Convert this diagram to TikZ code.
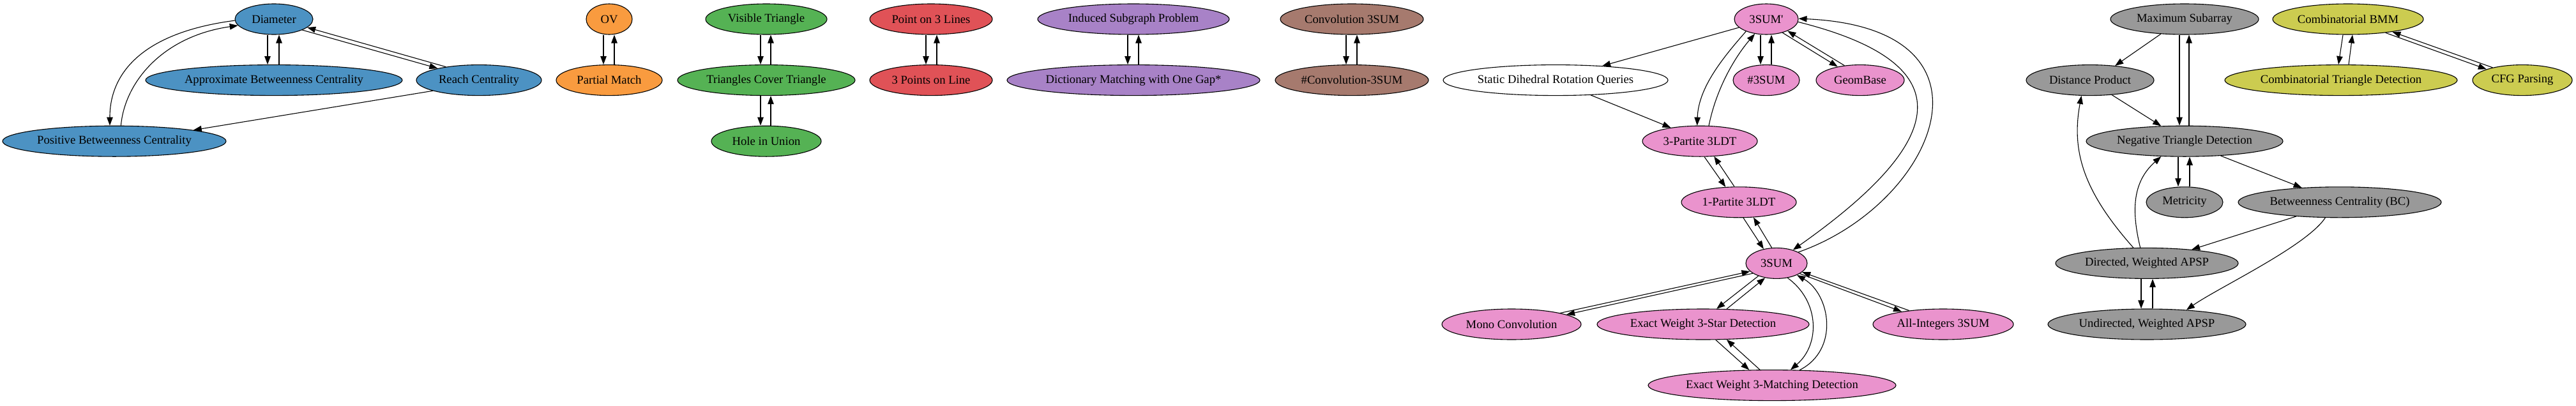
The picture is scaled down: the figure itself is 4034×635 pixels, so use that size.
\documentclass[tikz,border=0pt]{standalone}
\usepackage{fontspec}
\setmainfont{Liberation Serif}[Ligatures=TeXOff]
\usetikzlibrary{shapes.geometric,arrows.meta}
\definecolor{cblue}{HTML}{4C92C3}
\definecolor{corange}{HTML}{F99B3F}
\definecolor{cgreen}{HTML}{55B254}
\definecolor{cred}{HTML}{E05257}
\definecolor{cpurple}{HTML}{A882C7}
\definecolor{cbrown}{HTML}{A67A6E}
\definecolor{cpink}{HTML}{EA93CD}
\definecolor{cgray}{HTML}{999999}
\definecolor{colive}{HTML}{CCCC50}
\newcommand\gvfont{\fontsize{18.67pt}{22pt}\selectfont}
\tikzset{
  gv/.style={ellipse, draw=black, line width=1.1pt, minimum height=48pt, inner sep=0pt, font=\gvfont, text=black},
  e/.style={draw=black, line width=1.1pt, -{Triangle[length=13pt,width=9.5pt]}},
}
\newcommand\vpair[4]{%
  \draw[e] ([xshift=#3pt]#1.south) -- ([xshift=#3pt]#2.north);
  \draw[e] ([xshift=#4pt]#2.north) -- ([xshift=#4pt]#1.south);}
\begin{document}
\begin{tikzpicture}[x=1pt,y=1pt]
\fill[white] (0,0) rectangle (4034,-635);
\useasboundingbox (0,0) rectangle (4034,-635);

% blue
\node[gv, fill=cblue, minimum width=122pt] (dia) at (429,-30) {Diameter};
\node[gv, fill=cblue, minimum width=402pt] (abc) at (429,-125.6) {Approximate Betweenness Centrality};
\node[gv, fill=cblue, minimum width=196pt] (rc) at (750,-125.6) {Reach Centrality};
\node[gv, fill=cblue, minimum width=350pt] (pbc) at (179,-221.2) {Positive Betweenness Centrality};
% orange
\node[gv, fill=corange, minimum width=72pt] (ov) at (954,-30) {OV};
\node[gv, fill=corange, minimum width=166pt] (pm) at (954,-125.6) {Partial Match};
% green
\node[gv, fill=cgreen, minimum width=190pt] (vt) at (1200,-30) {Visible Triangle};
\node[gv, fill=cgreen, minimum width=278pt] (tct) at (1200,-125.6) {Triangles Cover Triangle};
\node[gv, fill=cgreen, minimum width=172pt] (hu) at (1200,-221.2) {Hole in Union};
% red
\node[gv, fill=cred, minimum width=192pt] (pthl) at (1458,-30) {Point on 3 Lines};
\node[gv, fill=cred, minimum width=192pt] (tpl) at (1458,-125.6) {3 Points on Line};
% purple
\node[gv, fill=cpurple, minimum width=300pt] (isp) at (1775,-30) {Induced Subgraph Problem};
\node[gv, fill=cpurple, minimum width=396pt] (dm) at (1775,-125.6) {Dictionary Matching with One Gap*};
% brown
\node[gv, fill=cbrown, minimum width=224pt] (cthree) at (2117,-30) {Convolution 3SUM};
\node[gv, fill=cbrown, minimum width=240pt] (ncthree) at (2117,-125.6) {\#Convolution-3SUM};
% pink
\node[gv, fill=white, minimum width=352pt] (sdrq) at (2436,-125.6) {Static Dihedral Rotation Queries};
\node[gv, fill=cpink, minimum width=100pt] (tsp) at (2766,-30) {3SUM'};
\node[gv, fill=cpink, minimum width=104pt] (nthree) at (2766,-125.6) {\#3SUM};
\node[gv, fill=cpink, minimum width=138pt] (gb) at (2913,-125.6) {GeomBase};
\node[gv, fill=cpink, minimum width=180pt] (pthree) at (2662,-221.2) {3-Partite 3LDT};
\node[gv, fill=cpink, minimum width=180pt] (pone) at (2723,-316.8) {1-Partite 3LDT};
\node[gv, fill=cpink, minimum width=96pt] (ts) at (2782,-412.4) {3SUM};
\node[gv, fill=cpink, minimum width=218pt] (mc) at (2367,-508) {Mono Convolution};
\node[gv, fill=cpink, minimum width=332pt] (ws) at (2667,-508) {Exact Weight 3-Star Detection};
\node[gv, fill=cpink, minimum width=220pt] (ai) at (3043,-508) {All-Integers 3SUM};
\node[gv, fill=cpink, minimum width=388pt] (wm) at (2775,-603.6) {Exact Weight 3-Matching Detection};
% gray
\node[gv, fill=cgray, minimum width=232pt] (ms) at (3421,-30) {Maximum Subarray};
\node[gv, fill=cgray, minimum width=200pt] (dp) at (3273,-125.6) {Distance Product};
\node[gv, fill=cgray, minimum width=308pt] (ntd) at (3421,-221.2) {Negative Triangle Detection};
\node[gv, fill=cgray, minimum width=120pt] (met) at (3421,-316.8) {Metricity};
\node[gv, fill=cgray, minimum width=318pt] (bc) at (3664,-316.8) {Betweenness Centrality (BC)};
\node[gv, fill=cgray, minimum width=286pt] (dwa) at (3362,-412.4) {Directed, Weighted APSP};
\node[gv, fill=cgray, minimum width=310pt] (uwa) at (3362,-508) {Undirected, Weighted APSP};
% olive
\node[gv, fill=colive, minimum width=236pt] (bmm) at (3677,-30) {Combinatorial BMM};
\node[gv, fill=colive, minimum width=364pt] (ctd) at (3666,-125.6) {Combinatorial Triangle Detection};
\node[gv, fill=colive, minimum width=156pt] (cfg) at (3950,-125.6) {CFG Parsing};

% ---- blue edges
\vpair{dia}{abc}{-10}{8}
\draw[e] (dia.-21) -- (rc.164);
\draw[e] (rc.158) -- (dia.-14);
\draw[e] (dia.182) .. controls +(-138,-18) and +(0,87) .. (pbc.106);
\draw[e] (pbc.67) .. controls +(6,68) and +(-118,-17) .. (dia.190);
\draw[e] (rc.193) -- (pbc.8);
% ---- small pairs
\vpair{ov}{pm}{-9}{8}
\vpair{vt}{tct}{-9}{7}
\vpair{tct}{hu}{-9}{7}
\vpair{pthl}{tpl}{-8}{9}
\vpair{isp}{dm}{-9}{8}
\vpair{cthree}{ncthree}{-9}{8}
% ---- pink edges
\draw[e] (tsp.-163) -- (sdrq.17);
\draw[e] (sdrq.-23) -- (pthree.155);
\draw[e] (tsp.-149) .. controls +(-35,-40) and +(2,60) .. (pthree.100);
\draw[e] (pthree.60) .. controls +(12,60) and +(-30,-35) .. (tsp.-128);
\vpair{tsp}{nthree}{-9}{8}
\draw[e] (tsp.-40) -- (gb.149);
\draw[e] (gb.137) -- (tsp.-29);
\draw[e] (tsp.-5) .. controls +(280,-70) and +(224,158) .. (ts.39);
\draw[e] (ts.27) .. controls +(214,75) and +(334,-15) .. (tsp.1);
\draw[e] (pthree.-74) -- (pone.131);
\draw[e] (pone.106) -- (pthree.-47);
\draw[e] (pone.-74) -- (ts.132);
\draw[e] (ts.107) -- (pone.-46);
\draw[e] (mc.13) -- (ts.197);
\draw[e] (ts.203) -- (mc.10);
\draw[e] (ts.-145) -- (ws.49);
\draw[e] (ws.33) -- (ts.-128);
\draw[e] (ts.-24) -- (ai.163);
\draw[e] (ai.158) -- (ts.-19);
\draw[e] (ts.-53) .. controls +(50,-36) and +(47,40) .. (wm.40);
\draw[e] (wm.29) .. controls +(63,32) and +(52,-30) .. (ts.-30);
\draw[e] (ws.-51) -- (wm.146);
\draw[e] (wm.128) -- (ws.-33);
% ---- gray edges
\draw[e] (ms.-148) -- (dp.30);
\vpair{ms}{ntd}{-8}{7}
\draw[e] (dp.-34) -- (ntd.147);
\vpair{ntd}{met}{-10}{8}
\draw[e] (ntd.-22) -- (bc.159);
\draw[e] (bc.-162) -- (dwa.17);
\draw[e] (bc.-133.5) .. controls +(-30,-45) and +(50,35) .. (uwa.20);
\draw[e] (dwa.131) .. controls +(-79,89) and +(-16,-86) .. (dp.-119);
\draw[e] (dwa.113) .. controls +(-14,58) and +(-45,-40) .. (ntd.-147);
\vpair{dwa}{uwa}{-9}{9}
% ---- olive edges
\draw[e] ([xshift=-8pt]bmm.south) -- ([xshift=-4pt]ctd.north);
\draw[e] ([xshift=12pt]ctd.north) -- ([xshift=7pt]bmm.south);
\draw[e] (bmm.-20) -- (cfg.163);
\draw[e] (cfg.157) -- (bmm.-16);
\end{tikzpicture}
\end{document}
